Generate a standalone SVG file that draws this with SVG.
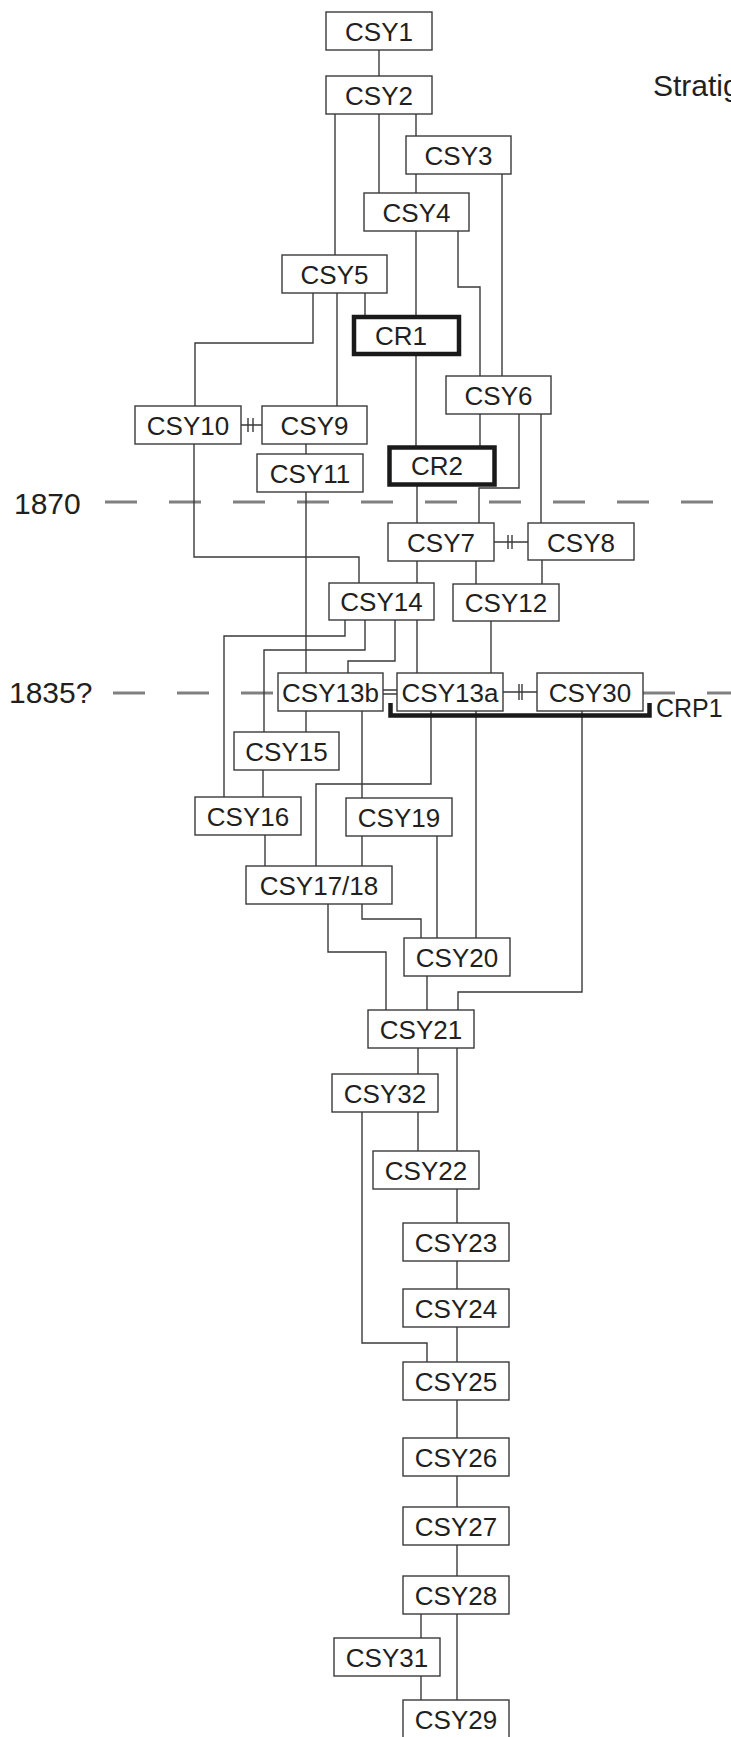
<svg xmlns="http://www.w3.org/2000/svg" width="731" height="1737" viewBox="0 0 731 1737">
<style>
.bg{fill:#ffffff}
.box rect{fill:#ffffff;stroke:#3a3a3a;stroke-width:1.4}
.box.thick rect{stroke:#1a1a1a;stroke-width:4.5}
.box text{font-family:"Liberation Sans",Arial,sans-serif;font-size:26px;fill:#231f20;text-anchor:middle}
#connectors path{fill:none;stroke:#3a3a3a;stroke-width:1.4}
.dash{fill:none;stroke:#808080;stroke-width:3;stroke-dasharray:32 32}
.lbl{font-family:"Liberation Sans",Arial,sans-serif;font-size:30px;fill:#231f20}
.bracket{fill:none;stroke:#1a1a1a;stroke-width:4.5}
</style>
<rect class="bg" x="0" y="0" width="731" height="1737"/>
<g id="dates">
<path class="dash" d="M105 502 H713"/>
<text class="lbl" x="14" y="514">1870</text>
<path class="dash" d="M113 693 H278"/>
<path class="dash" d="M643 693 H731"/>
<text class="lbl" x="9" y="703">1835?</text>
<text class="lbl" x="653" y="95.5">Stratig</text>
</g>
<g id="connectors">
<path d="M379 50 V76"/>
<path d="M335 114 V255"/>
<path d="M379 114 V193"/>
<path d="M416 114 V136"/>
<path d="M416 174 V193"/>
<path d="M502 174 V376"/>
<path d="M416 231 V317"/>
<path d="M458 231 V287 H480 V376"/>
<path d="M313 293 V343 H195 V406"/>
<path d="M337 293 V406"/>
<path d="M365 293 V317"/>
<path d="M416 354 V447"/>
<path d="M480 414 V447"/>
<path d="M519 414 V488 H479 V523"/>
<path d="M541 414 V523"/>
<path d="M417 485 V523"/>
<path d="M241 425 H262 M248 418 V432 M253 418 V432"/>
<path d="M306 444 V454"/>
<path d="M194 444 V557 H359 V583"/>
<path d="M306 492 V673"/>
<path d="M494 542 H528 M508 535 V549 M512 535 V549"/>
<path d="M417 561 V583"/>
<path d="M476 561 V584"/>
<path d="M542 560 V584"/>
<path d="M345 620 V636 H224 V797"/>
<path d="M365 620 V650 H264 V732"/>
<path d="M395 620 V661 H348 V673"/>
<path d="M417 620 V673"/>
<path d="M491 621 V673"/>
<path d="M383 690 H397 M383 694 H397"/>
<path d="M503 692 H537 M519 684 V700 M522 684 V700"/>
<path d="M306 711 V732"/>
<path d="M362 711 V798"/>
<path d="M431 711 V784 H316 V866"/>
<path d="M476 711 V938"/>
<path d="M582 711 V992 H458 V1010"/>
<path d="M263 770 V797"/>
<path d="M265 835 V866"/>
<path d="M362 836 V866"/>
<path d="M437 836 V938"/>
<path d="M328 904 V952 H386 V1010"/>
<path d="M362 904 V919 H421 V938"/>
<path d="M427 976 V1010"/>
<path d="M418 1048 V1074"/>
<path d="M457 1048 V1151"/>
<path d="M418 1112 V1151"/>
<path d="M362 1112 V1343 H427 V1362"/>
<path d="M457 1189 V1223"/>
<path d="M457 1261 V1289"/>
<path d="M457 1327 V1362"/>
<path d="M457 1400 V1438"/>
<path d="M457 1476 V1507"/>
<path d="M457 1545 V1576"/>
<path d="M421 1614 V1638"/>
<path d="M457 1614 V1700"/>
<path d="M421 1676 V1700"/>
</g>
<g id="CSY1" class="box"><rect x="326" y="12" width="106" height="38"/><text x="379" y="41">CSY1</text></g>
<g id="CSY2" class="box"><rect x="326" y="76" width="106" height="38"/><text x="379" y="105">CSY2</text></g>
<g id="CSY3" class="box"><rect x="406" y="136" width="105" height="38"/><text x="458.5" y="165">CSY3</text></g>
<g id="CSY4" class="box"><rect x="364" y="193" width="105" height="38"/><text x="416.5" y="222">CSY4</text></g>
<g id="CSY5" class="box"><rect x="282" y="255" width="105" height="38"/><text x="334.5" y="284">CSY5</text></g>
<g id="CR1" class="box thick"><rect x="354" y="317" width="105" height="37"/><text x="401" y="345">CR1</text></g>
<g id="CSY6" class="box"><rect x="446" y="376" width="105" height="38"/><text x="498.5" y="405">CSY6</text></g>
<g id="CSY10" class="box"><rect x="135" y="406" width="106" height="38"/><text x="188" y="435">CSY10</text></g>
<g id="CSY9" class="box"><rect x="262" y="406" width="105" height="38"/><text x="314.5" y="435">CSY9</text></g>
<g id="CSY11" class="box"><rect x="257" y="454" width="106" height="38"/><text x="310" y="483">CSY11</text></g>
<g id="CR2" class="box thick"><rect x="389.5" y="447.5" width="105" height="37"/><text x="437" y="475">CR2</text></g>
<g id="CSY7" class="box"><rect x="388" y="523" width="106" height="38"/><text x="441" y="552">CSY7</text></g>
<g id="CSY8" class="box"><rect x="528" y="523" width="106" height="37"/><text x="581" y="552">CSY8</text></g>
<g id="CSY14" class="box"><rect x="329" y="583" width="105" height="37"/><text x="381.5" y="611">CSY14</text></g>
<g id="CSY12" class="box"><rect x="453" y="584" width="106" height="37"/><text x="506" y="612">CSY12</text></g>
<g id="CSY13b" class="box"><rect x="278" y="673" width="105" height="38"/><text x="330.5" y="702">CSY13b</text></g>
<g id="CSY13a" class="box"><rect x="397" y="673" width="106" height="38"/><text x="450" y="702">CSY13a</text></g>
<g id="CSY30" class="box"><rect x="537" y="673" width="106" height="38"/><text x="590" y="702">CSY30</text></g>
<g id="CRP1">
<path class="bracket" d="M390.5 703 V715.5 H649.5 V703"/>
<text class="lbl" x="656" y="717" style="font-size:25px">CRP1</text>
</g>
<g id="CSY15" class="box"><rect x="234" y="732" width="105" height="38"/><text x="286.5" y="761">CSY15</text></g>
<g id="CSY16" class="box"><rect x="195" y="797" width="106" height="38"/><text x="248" y="826">CSY16</text></g>
<g id="CSY19" class="box"><rect x="346" y="798" width="106" height="38"/><text x="399" y="827">CSY19</text></g>
<g id="CSY17_18" class="box"><rect x="246" y="866" width="146" height="38"/><text x="319" y="895">CSY17/18</text></g>
<g id="CSY20" class="box"><rect x="404" y="938" width="106" height="38"/><text x="457" y="967">CSY20</text></g>
<g id="CSY21" class="box"><rect x="368" y="1010" width="106" height="38"/><text x="421" y="1039">CSY21</text></g>
<g id="CSY32" class="box"><rect x="332" y="1074" width="106" height="38"/><text x="385" y="1103">CSY32</text></g>
<g id="CSY22" class="box"><rect x="373" y="1151" width="106" height="38"/><text x="426" y="1180">CSY22</text></g>
<g id="CSY23" class="box"><rect x="403" y="1223" width="106" height="38"/><text x="456" y="1252">CSY23</text></g>
<g id="CSY24" class="box"><rect x="403" y="1289" width="106" height="38"/><text x="456" y="1318">CSY24</text></g>
<g id="CSY25" class="box"><rect x="403" y="1362" width="106" height="38"/><text x="456" y="1391">CSY25</text></g>
<g id="CSY26" class="box"><rect x="403" y="1438" width="106" height="38"/><text x="456" y="1467">CSY26</text></g>
<g id="CSY27" class="box"><rect x="403" y="1507" width="106" height="38"/><text x="456" y="1536">CSY27</text></g>
<g id="CSY28" class="box"><rect x="403" y="1576" width="106" height="38"/><text x="456" y="1605">CSY28</text></g>
<g id="CSY31" class="box"><rect x="334" y="1638" width="106" height="38"/><text x="387" y="1667">CSY31</text></g>
<g id="CSY29" class="box"><rect x="403" y="1700" width="106" height="38"/><text x="456" y="1729">CSY29</text></g>
</svg>
